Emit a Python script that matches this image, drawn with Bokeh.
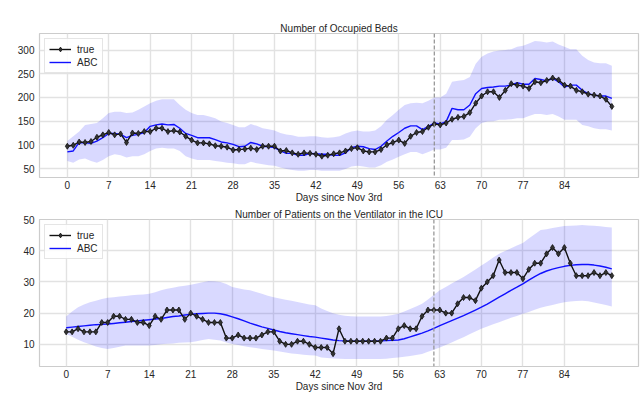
from bokeh.plotting import figure
from bokeh.models import FixedTicker, Span, Legend, LegendItem
from bokeh.layouts import column
from bokeh.embed import file_html
from bokeh.resources import INLINE

days = list(range(93))
x_ticks = [0, 7, 14, 21, 28, 35, 42, 49, 56, 63, 70, 77, 84]
cutoff_day = 62

beds_true = [97,99,106,105,107,116,121,126,121,123,
             105,125,124,128,128,135,135,128,130,127,
             118,110,104,104,102,98,97,95,89,90,
             91,93,90,97,97,97,87,88,83,80,
             83,82,80,76,78,81,83,87,92,94,
             87,85,85,90,100,105,110,103,118,126,
             128,137,144,142,146,154,158,160,168,188,
             203,212,212,200,215,229,226,224,219,233,
             231,236,241,237,226,224,215,212,207,205,
             203,196,181]
beds_abc = [85,87,105,104,103,108,115,124,124,122,
            115,120,122,126,139,142,144,142,143,135,
            124,120,115,115,115,111,106,104,101,96,
            97,105,102,97,96,94,87,82,82,78,
            78,82,81,80,80,78,78,83,94,97,
            96,92,90,97,108,118,126,135,140,140,
            132,139,146,144,149,177,174,174,184,208,
            219,221,222,224,224,226,231,228,228,240,
            238,235,240,233,222,226,226,215,208,205,
            203,203,198]
beds_hi = [108,118,128,142,144,146,156,167,170,170,
           167,168,174,181,188,193,196,196,196,184,
           174,167,163,163,160,156,149,146,142,137,
           137,144,140,135,133,130,125,122,120,117,
           117,118,118,116,115,116,118,124,128,130,
           128,128,130,139,153,163,174,184,188,189,
           188,193,200,200,208,233,235,237,243,271,
           286,293,297,299,300,302,307,309,314,319,
           318,316,318,312,307,302,302,288,279,274,
           272,272,267]
beds_lo = [66,62,69,71,66,62,68,76,80,78,
           73,76,76,80,87,92,94,92,92,87,
           76,71,68,68,68,66,64,62,61,59,
           59,64,61,59,57,56,52,49,47,45,
           45,47,47,45,45,45,45,49,54,56,
           54,52,52,57,64,69,75,80,85,85,
           80,85,90,90,94,110,110,111,117,135,
           146,149,150,153,153,154,156,156,161,165,
           165,163,165,160,153,153,153,142,139,135,
           133,133,130]

vent_true = [14,14,15,14,14,14,17,17,19,19,
             18,18,17,17,16,19,18,21,21,21,
             18,20,19,18,17,17,17,12,12,13,
             12,12,12,13,14,14,11,10,10,11,
             11,10,9,9,9,7,15,11,11,11,
             11,11,11,11,12,12,15,16,15,15,
             19,21,21,21,20,20,23,25,25,24,
             28,30,32,37,33,33,33,31,34,36,
             36,39,41,39,41,36,32,32,32,33,
             32,33,32]
vent_abc = [15.3,15.5,15.7,15.9,16.1,16.3,16.4,16.5,16.7,16.9,
            17.1,17.3,17.5,17.7,17.9,18.1,18.3,18.6,18.9,19.1,
            19.4,19.6,19.8,19.9,20.0,20.0,19.8,19.4,18.8,18.2,
            17.5,16.8,16.2,15.6,15.1,14.6,14.1,13.7,13.4,13.1,
            12.8,12.5,12.3,12.0,11.7,11.4,11.2,11.1,11.0,11.0,
            11.0,11.0,11.0,11.1,11.2,11.3,11.4,11.8,12.4,13.0,
            13.6,14.3,15.1,16.0,16.8,17.6,18.4,19.2,20.1,21.0,
            21.9,22.9,24.0,25.1,26.2,27.3,28.3,29.4,30.6,31.7,
            32.7,33.5,34.1,34.6,35.0,35.3,35.5,35.6,35.6,35.4,
            35.1,34.7,34.2]
vent_hi = [18.9,20.5,21.9,22.8,23.5,24.0,24.5,24.9,25.1,25.3,
           25.5,25.7,25.9,26.0,26.2,26.7,27.3,27.8,28.1,28.5,
           28.8,29.1,29.5,29.9,30.3,30.2,30.0,29.3,28.4,28.0,
           27.6,27.3,26.8,26.2,25.6,25.1,24.7,24.3,24.0,23.6,
           23.2,22.8,22.5,21.5,20.7,20.0,19.5,19.2,19.0,18.9,
           18.9,18.9,18.9,18.9,19.1,19.4,19.8,20.5,21.3,22.1,
           23.0,24.4,25.9,27.3,28.4,29.5,30.5,31.6,32.8,34.0,
           35.3,36.5,37.8,39.0,39.9,40.8,41.7,42.5,43.9,45.3,
           46.6,46.9,47.3,47.6,47.9,48.0,48.1,48.2,48.1,48.0,
           47.8,47.6,47.4]
vent_lo = [13.3,12.4,11.5,10.7,10.0,9.3,8.8,8.5,8.8,9.2,
           9.6,9.6,9.6,9.6,9.6,9.8,10.0,10.2,10.3,10.5,
           10.6,10.7,11.0,11.4,11.7,11.5,11.2,10.6,10.1,9.8,
           9.4,9.1,8.8,8.5,8.3,8.0,7.7,7.4,7.1,6.9,
           6.7,6.5,6.4,5.8,5.6,5.5,5.4,5.3,5.3,5.3,
           5.3,5.3,5.3,5.3,5.4,5.6,5.8,6.0,6.3,6.6,
           6.9,7.6,8.3,9.0,9.8,10.6,11.5,12.3,13.2,14.1,
           15.0,15.7,16.4,17.1,17.8,18.5,19.1,19.8,20.4,21.1,
           21.7,22.2,22.6,23.1,23.5,23.7,23.9,24.0,23.8,23.4,
           23.0,22.6,22.1]

FONT = "Liberation Sans"
TXT = "#262626"


def make_fig(title, xr, yr, yticks, height, top, left, true_v, abc_v, lo_v, hi_v):
    p = figure(width=640, height=height, x_range=xr, y_range=yr,
               output_backend="svg", toolbar_location=None,
               min_border_left=left, min_border_right=2,
               min_border_top=top, min_border_bottom=0,
               background_fill_color="white", border_fill_color="white")
    p.title.text = title
    p.title.align = "center"
    p.title.text_font = FONT
    p.title.text_font_size = "10px"
    p.title.text_font_style = "normal"
    p.title.text_color = TXT
    p.title.standoff = 0
    p.outline_line_color = "#cccccc"
    p.outline_line_width = 1.2
    for g in (p.xgrid, p.ygrid):
        g.grid_line_color = "#e2e2e2"
        g.grid_line_width = 1.4
    for ax in (p.xaxis, p.yaxis):
        ax.axis_line_color = None
        ax.major_tick_line_color = None
        ax.minor_tick_line_color = None
        ax.major_tick_out = 0
        ax.major_tick_in = 0
        ax.minor_tick_out = 0
        ax.minor_tick_in = 0
        ax.major_label_text_font = FONT
        ax.major_label_text_font_size = "10px"
        ax.major_label_text_color = TXT
    p.yaxis.major_label_standoff = 5
    p.xaxis.major_label_standoff = 3
    p.xaxis.ticker = FixedTicker(ticks=x_ticks)
    p.yaxis.ticker = FixedTicker(ticks=yticks)
    p.xaxis.axis_label = "Days since Nov 3rd"
    p.xaxis.axis_label_text_font = FONT
    p.xaxis.axis_label_text_font_size = "10px"
    p.xaxis.axis_label_text_font_style = "normal"
    p.xaxis.axis_label_text_color = TXT
    p.xaxis.axis_label_standoff = 0

    p.varea(x=days, y1=lo_v, y2=hi_v, fill_color="#0000ff", fill_alpha=0.15)
    abc = p.line(days, abc_v, line_color="#1010ff", line_width=1.4)
    tl = p.line(days, true_v, line_color="#111111", line_width=1.4)
    ts = p.scatter(days, true_v, marker="diamond", size=6,
                   fill_color="#333333", line_color="#111111", line_width=0.8)
    p.add_layout(Span(location=cutoff_day, dimension="height",
                      line_color="#909090", line_dash="4 2", line_width=1.2))
    leg = Legend(items=[LegendItem(label="true", renderers=[tl, ts]),
                        LegendItem(label="ABC", renderers=[abc])],
                 location="top_left")
    leg.margin = 5
    leg.padding = 4
    leg.spacing = 1
    leg.label_text_font = FONT
    leg.label_text_font_size = "10px"
    leg.label_text_color = TXT
    leg.glyph_width = 22
    leg.glyph_height = 12
    leg.label_height = 12
    leg.label_standoff = 6
    leg.border_line_color = "#cccccc"
    leg.background_fill_alpha = 0.85
    p.add_layout(leg, "center")
    return p


p1 = make_fig("Number of Occupied Beds", (-4.7, 96.5), (31, 335),
              [50, 100, 150, 200, 250, 300],
              205, 33, 39, beds_true, beds_abc, beds_lo, beds_hi)
p2 = make_fig("Number of Patients on the Ventilator in the ICU", (-4.5, 96.5),
              (2.9, 50), [10, 20, 30, 40, 50], 189, 14, 35,
              vent_true, vent_abc, vent_lo, vent_hi)

layout = column(p1, p2, spacing=0)
open("out.html", "w").write(file_html(layout, INLINE))
